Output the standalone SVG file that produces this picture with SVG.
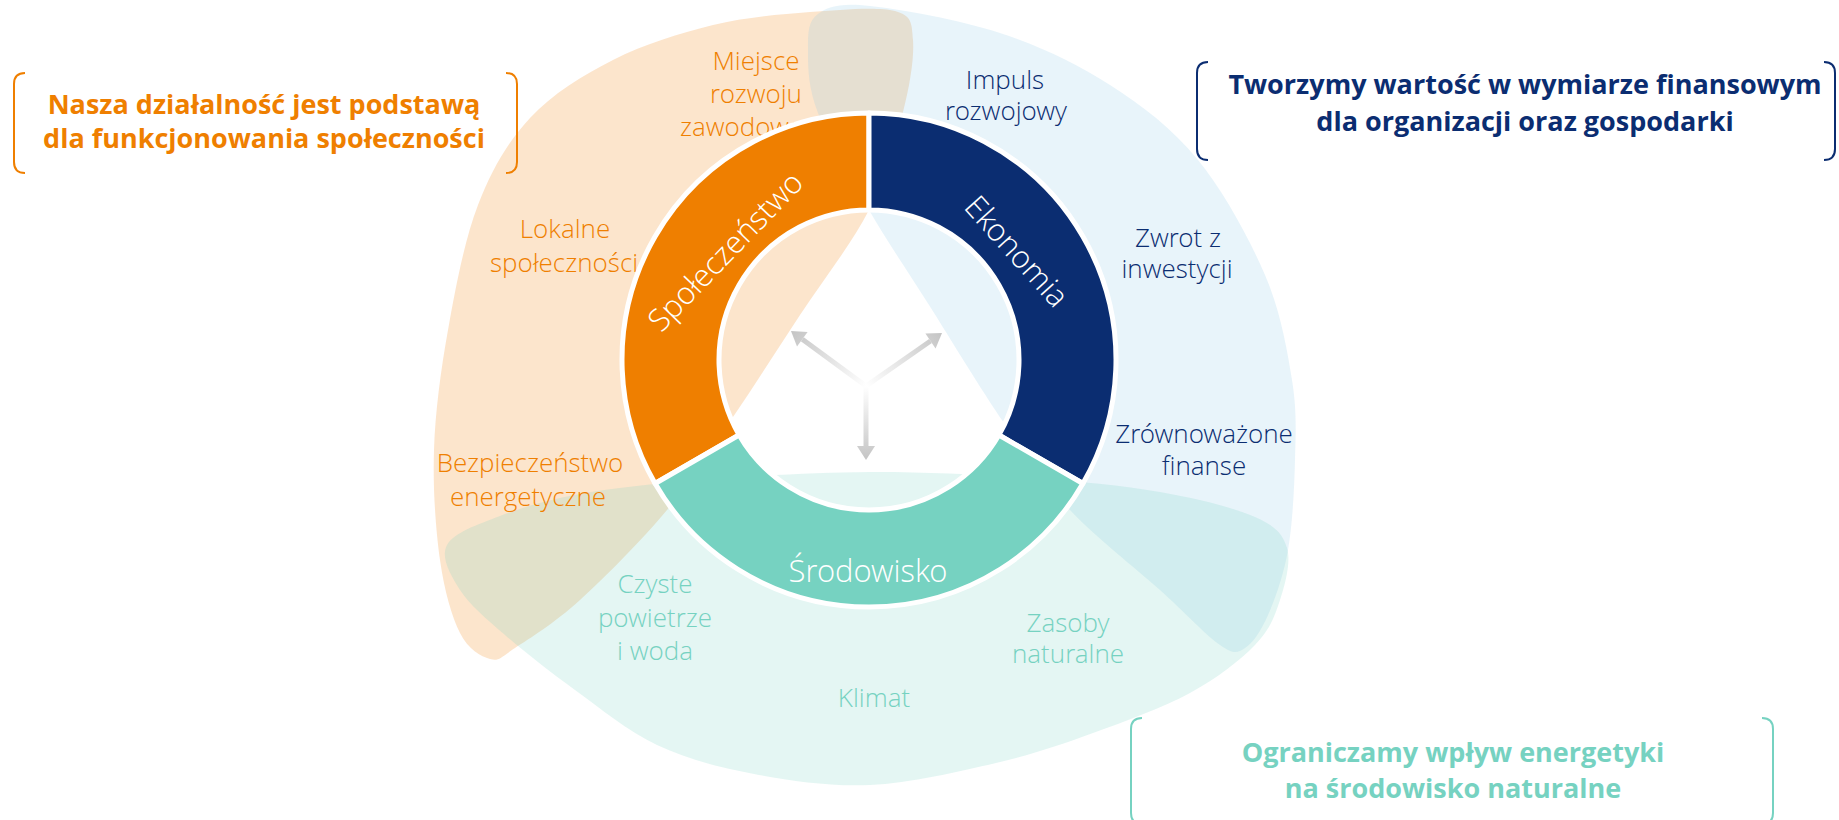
<svg xmlns="http://www.w3.org/2000/svg" width="1839" height="820" viewBox="0 0 1839 820">
<defs>
<style>
.lbl{font-family:'Open Sans Light','Lato Light','Open Sans','Noto Sans',sans-serif;font-weight:300;font-size:26px;text-anchor:middle}
.seg{font-family:'Open Sans Light','Lato Light','Open Sans','Noto Sans',sans-serif;font-weight:300;font-size:31px;fill:#fff;text-anchor:middle}
.head{font-family:'Open Sans','Noto Sans',sans-serif;font-weight:700;font-size:27px;text-anchor:middle}
.o{fill:#EF7F00}.n{fill:#0B2D71}.t{fill:#76D2C1}
.ring{stroke:#fff;stroke-width:5;stroke-linejoin:round}
.br{fill:none;stroke-width:2}
.arr{stroke-width:5;fill:none}
</style>
<linearGradient id="gL" gradientUnits="userSpaceOnUse" x1="866" y1="386" x2="791" y2="331"><stop offset="0" stop-color="#fff"/><stop offset="1" stop-color="#C4C4C4"/></linearGradient>
<linearGradient id="gR" gradientUnits="userSpaceOnUse" x1="866" y1="386" x2="942" y2="333"><stop offset="0" stop-color="#fff"/><stop offset="1" stop-color="#C4C4C4"/></linearGradient>
<linearGradient id="gD" gradientUnits="userSpaceOnUse" x1="866" y1="386" x2="866" y2="460"><stop offset="0" stop-color="#fff"/><stop offset="1" stop-color="#C4C4C4"/></linearGradient>
</defs>
<rect width="1839" height="820" fill="#fff"/>
<g id="background-areas">
<path id="area-spoleczenstwo" fill="#EF7F00" fill-opacity="0.2" d="M 490,659 C 480.8,656.5 468.3,649.5 460,633 C 451.7,616.5 444.3,590.5 440,560 C 435.7,529.5 432.7,488.3 434,450 C 435.3,411.7 440.7,370.8 448,330 C 455.3,289.2 464.3,240.3 478,205 C 491.7,169.7 507.5,142.2 530,118 C 552.5,93.8 582.5,75.5 613,60 C 643.5,44.5 680.2,33 713,25 C 745.8,17 779.7,14.3 810,12 C 840.3,9.7 877.8,6.3 895,11 C 912.2,15.7 911.7,23.2 913,40 C 914.3,56.8 910.3,83.7 903,112 C 895.7,140.3 886.2,176.2 869,210 C 851.8,243.8 822.7,280.5 800,315 C 777.3,349.5 755.2,384.5 733,417 C 710.8,449.5 692.5,479.5 667,510 C 641.5,540.5 605.3,577 580,600 C 554.7,623 530,638.2 515,648 C 500,657.8 499.2,661.5 490,659 Z"/>
<path id="area-ekonomia" fill="#8CC8E6" fill-opacity="0.2" d="M 808,50 C 808,33.5 807.7,21.3 818,14 C 828.3,6.7 839.7,2.8 870,6 C 900.3,9.2 960,19.8 1000,33 C 1040,46.2 1077,63.8 1110,85 C 1143,106.2 1172.2,128.3 1198,160 C 1223.8,191.7 1249.3,238.3 1265,275 C 1280.7,311.7 1287,349.2 1292,380 C 1297,410.8 1295.7,431.7 1295,460 C 1294.3,488.3 1292.5,524.2 1288,550 C 1283.5,575.8 1275.2,598.7 1268,615 C 1260.8,631.3 1253,643 1245,648 C 1237,653 1234.2,654.7 1220,645 C 1205.8,635.3 1185,612.5 1160,590 C 1135,567.5 1096,537.8 1070,510 C 1044,482.2 1027.5,457.2 1004,423 C 980.5,388.8 951.5,340.5 929,305 C 906.5,269.5 887.5,242 869,210 C 850.5,178 828.2,139.7 818,113 C 807.8,86.3 808,66.5 808,50 Z"/>
<path id="area-srodowisko" fill="#76D2C1" fill-opacity="0.2" d="M 447,545 C 453.7,532.7 477.8,524.5 500,516 C 522.2,507.5 546.7,500 580,494 C 613.3,488 651.8,483.7 700,480 C 748.2,476.3 814,472.3 869,472 C 924,471.7 981.5,474.7 1030,478 C 1078.5,481.3 1122.5,485.5 1160,492 C 1197.5,498.5 1233.8,507.7 1255,517 C 1276.2,526.3 1282.8,534.2 1287,548 C 1291.2,561.8 1285.3,583.8 1280,600 C 1274.7,616.2 1270,629.5 1255,645 C 1240,660.5 1217,678.3 1190,693 C 1163,707.7 1125.3,721.3 1093,733 C 1060.7,744.7 1033.2,754.3 996,763 C 958.8,771.7 910.3,783.2 870,785 C 829.7,786.8 789.5,780.7 754,774 C 718.5,767.3 686.8,759 657,745 C 627.2,731 600.3,708.3 575,690 C 549.7,671.7 524.2,651.7 505,635 C 485.8,618.3 469.7,605 460,590 C 450.3,575 440.3,557.3 447,545 Z"/>
</g>
<g id="area-labels">
<text class="lbl o" x="756" y="70">Miejsce</text>
<text class="lbl o" x="756" y="103">rozwoju</text>
<text class="lbl o" x="756" y="136">zawodowego</text>
<text class="lbl o" x="565" y="238">Lokalne</text>
<text class="lbl o" x="564" y="272">społeczności</text>
<text class="lbl o" x="530" y="472">Bezpieczeństwo</text>
<text class="lbl o" x="528" y="506">energetyczne</text>
<text class="lbl t" x="655" y="593">Czyste</text>
<text class="lbl t" x="655" y="627">powietrze</text>
<text class="lbl t" x="655" y="660">i woda</text>
<text class="lbl t" x="874" y="707">Klimat</text>
<text class="lbl t" x="1068" y="632">Zasoby</text>
<text class="lbl t" x="1068" y="663">naturalne</text>
<text class="lbl n" x="1005" y="89">Impuls</text>
<text class="lbl n" x="1006" y="120">rozwojowy</text>
<text class="lbl n" x="1178" y="247">Zwrot z</text>
<text class="lbl n" x="1177" y="278">inwestycji</text>
<text class="lbl n" x="1204" y="443">Zrównoważone</text>
<text class="lbl n" x="1204" y="475">finanse</text>
</g>
<g id="node-spoleczenstwo">
<path class="ring o" d="M 655.1,483.5 A 247 247 0 0 1 869,113 L 869,210 A 150 150 0 0 0 739.1,435 Z"/>
<text class="seg" transform="translate(726,252) rotate(-46)" x="0" y="10">Społeczeństwo</text>
</g>
<g id="node-ekonomia">
<path class="ring n" d="M 869,113 A 247 247 0 0 1 1082.9,483.5 L 998.9,435 A 150 150 0 0 0 869,210 Z"/>
<text class="seg" transform="translate(1016,252) rotate(48)" x="0" y="10">Ekonomia</text>
</g>
<g id="node-srodowisko">
<path class="ring t" d="M 1082.9,483.5 A 247 247 0 0 1 655.1,483.5 L 739.1,435 A 150 150 0 0 0 998.9,435 Z"/>
<text class="seg" x="868" y="582">Środowisko</text>
</g>
<g id="connectors">
<line class="arr" stroke="url(#gL)" x1="866" y1="386" x2="802.3" y2="339.3"/>
<polygon fill="url(#gL)" points="791,331 807.6,332 797,346.6"/>
<line class="arr" stroke="url(#gR)" x1="866" y1="386" x2="930.5" y2="341"/>
<polygon fill="url(#gR)" points="942,333 935.6,348.4 925.4,333.6"/>
<line class="arr" stroke="url(#gD)" x1="866" y1="386" x2="866" y2="447"/>
<polygon fill="url(#gD)" points="857,446 875,446 866,460"/>
</g>
<g id="callout-spoleczenstwo">
<path class="br" stroke="#EF7F00" d="M 25,73 Q 14,73 14,84 L 14,162 Q 14,173 25,173"/>
<path class="br" stroke="#EF7F00" d="M 506,73 Q 517,73 517,84 L 517,162 Q 517,173 506,173"/>
<text class="head o" x="264" y="114">Nasza działalność jest podstawą</text>
<text class="head o" x="264" y="148">dla funkcjonowania społeczności</text>
</g>
<g id="callout-ekonomia">
<path class="br" stroke="#0B2D71" d="M 1208,62 Q 1197,62 1197,73 L 1197,149 Q 1197,160 1208,160"/>
<path class="br" stroke="#0B2D71" d="M 1824,62 Q 1835,62 1835,73 L 1835,149 Q 1835,160 1824,160"/>
<text class="head n" x="1525" y="94">Tworzymy wartość w wymiarze finansowym</text>
<text class="head n" x="1525" y="131">dla organizacji oraz gospodarki</text>
</g>
<g id="callout-srodowisko">
<path class="br" stroke="#76D2C1" d="M 1142,718 Q 1131,718 1131,729 L 1131,813 Q 1131,824 1142,824"/>
<path class="br" stroke="#76D2C1" d="M 1762,718 Q 1773,718 1773,729 L 1773,813 Q 1773,824 1762,824"/>
<text class="head t" x="1453" y="762">Ograniczamy wpływ energetyki</text>
<text class="head t" x="1453" y="798">na środowisko naturalne</text>
</g>
</svg>
